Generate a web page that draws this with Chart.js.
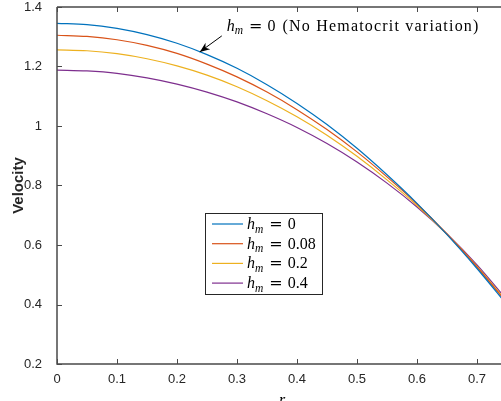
<!DOCTYPE html>
<html>
<head>
<meta charset="utf-8">
<script src="https://cdn.jsdelivr.net/npm/chart.js@4.4.0/dist/chart.umd.min.js"></script>
<style>
    html, body { margin: 0; padding: 0; background: #fff; overflow: hidden; }
    #wrap { width: 501px; height: 401px; overflow: hidden; position: relative; }
    #wrap canvas { position: absolute; left: 0; top: 0; }
</style>
</head>
<body>
<div id="wrap"><canvas id="velocityChart" width="520" height="420"></canvas></div>
<script>
// radial position r and velocity for each hematocrit parameter h_m
const radius = [0, 0.05, 0.1, 0.15, 0.2, 0.25, 0.3, 0.35, 0.4, 0.45, 0.5, 0.55, 0.6, 0.65, 0.7, 0.75];
const hmLabels = ['0', '0.08', '0.2', '0.4'];
const velHm0 = [1.345, 1.341, 1.328, 1.307, 1.278, 1.240, 1.194, 1.139, 1.076, 1.005, 0.925, 0.836, 0.740, 0.635, 0.521, 0.399];
const velHm008 = [1.305, 1.301, 1.290, 1.271, 1.244, 1.208, 1.165, 1.114, 1.055, 0.988, 0.913, 0.829, 0.738, 0.637, 0.526, 0.405];
const velHm02 = [1.256, 1.253, 1.243, 1.226, 1.202, 1.171, 1.132, 1.085, 1.031, 0.969, 0.898, 0.819, 0.733, 0.636, 0.528, 0.409];
const velHm04 = [1.188, 1.185, 1.177, 1.162, 1.141, 1.114, 1.081, 1.041, 0.995, 0.941, 0.879, 0.808, 0.728, 0.637, 0.533, 0.415];
const xTicks = [0, 0.1, 0.2, 0.3, 0.4, 0.5, 0.6, 0.7];
const yTicks = [0.2, 0.4, 0.6, 0.8, 1, 1.2, 1.4];

const lineColors = ['#0072BD', '#D95319', '#EDB120', '#7E2F8E'];
const axisColor = '#4a4a4a';
const textColor = '#262626';
const serif = '"Liberation Serif", "DejaVu Serif", serif';
const sans = '"Liberation Sans", Arial, sans-serif';

// callout pointing at the h_m = 0 curve
const calloutX = 0.238;
const calloutText = '(No Hematocrit variation)';

function toPoints(ys) {
    return radius.map((r, i) => ({ x: r, y: ys[i] }));
}

function valueAt(xs, ys, x) {
    for (let i = 1; i < xs.length; i++) {
        if (x <= xs[i]) {
            const t = (x - xs[i - 1]) / (xs[i] - xs[i - 1]);
            return ys[i - 1] + t * (ys[i] - ys[i - 1]);
        }
    }
    return ys[ys.length - 1];
}

// draws "h_m = value" in a LaTeX-like style, returns the end x
function drawHm(ctx, x, y, value) {
    ctx.fillStyle = '#000';
    ctx.textBaseline = 'alphabetic';
    ctx.textAlign = 'left';
    ctx.font = 'italic 16px ' + serif;
    ctx.fillText('h', x, y);
    x += ctx.measureText('h').width;
    ctx.font = 'italic 11.5px ' + serif;
    ctx.fillText('m', x, y + 3.5);
    x += ctx.measureText('m').width + 6;
    ctx.font = '16px "DejaVu Serif", serif';
    ctx.fillText('=', x, y);
    x += ctx.measureText('=').width + 5;
    ctx.font = '16px ' + serif;
    ctx.fillText(value, x, y);
    return x + ctx.measureText(value).width;
}

const fmt = v => String(Number(v.toFixed(2)));

// MATLAB-style box: inward ticks, top border line
const axesBox = {
    id: 'axesBox',
    afterDraw(chart) {
        const { ctx, chartArea: a, scales: { x, y } } = chart;
        ctx.save();
        ctx.strokeStyle = axisColor;
        ctx.lineWidth = 1.5;
        ctx.beginPath();
        ctx.moveTo(a.left, a.top);
        ctx.lineTo(a.right, a.top);
        ctx.moveTo(a.left, a.top);
        ctx.lineTo(a.left, a.bottom);
        ctx.lineTo(a.right, a.bottom);
        ctx.stroke();
        ctx.lineWidth = 1;
        ctx.beginPath();
        xTicks.forEach(v => {
            const px = Math.round(x.getPixelForValue(v)) + 0.5;
            ctx.moveTo(px, a.bottom);
            ctx.lineTo(px, a.bottom - 5);
            ctx.moveTo(px, a.top);
            ctx.lineTo(px, a.top + 5);
        });
        yTicks.forEach(v => {
            const py = Math.round(y.getPixelForValue(v)) + 0.5;
            ctx.moveTo(a.left, py);
            ctx.lineTo(a.left + 5, py);
        });
        ctx.stroke();
        ctx.restore();
    }
};

// legend box with one sample line per series
const hmLegend = {
    id: 'hmLegend',
    afterDraw(chart) {
        const { ctx } = chart;
        const left = 205, top = 213, width = 117, height = 81, rowGap = 19.7;
        ctx.save();
        ctx.fillStyle = '#fff';
        ctx.fillRect(left, top, width, height);
        ctx.strokeStyle = textColor;
        ctx.lineWidth = 1;
        ctx.strokeRect(left + 0.5, top + 0.5, width, height);
        chart.data.datasets.forEach((ds, i) => {
            const rowY = top + 11 + i * rowGap;
            ctx.strokeStyle = ds.borderColor;
            ctx.lineWidth = 1.2;
            ctx.beginPath();
            ctx.moveTo(left + 7, rowY);
            ctx.lineTo(left + 38, rowY);
            ctx.stroke();
            drawHm(ctx, left + 42, rowY + 5, hmLabels[i]);
        });
        ctx.restore();
    }
};

// text callout with an arrow onto the first curve
const callout = {
    id: 'callout',
    afterDraw(chart) {
        const { ctx, scales: { x, y } } = chart;
        const tipX = x.getPixelForValue(calloutX);
        const tipY = y.getPixelForValue(valueAt(radius, velHm0, calloutX));
        const tailX = tipX + 22, tailY = tipY - 16;
        ctx.save();
        ctx.strokeStyle = '#000';
        ctx.fillStyle = '#000';
        ctx.lineWidth = 1;
        ctx.beginPath();
        ctx.moveTo(tailX, tailY);
        ctx.lineTo(tipX, tipY);
        ctx.stroke();
        const ang = Math.atan2(tipY - tailY, tipX - tailX);
        const len = 10, half = 4;
        const bx = tipX - len * Math.cos(ang), by = tipY - len * Math.sin(ang);
        const nx = -Math.sin(ang), ny = Math.cos(ang);
        ctx.beginPath();
        ctx.moveTo(tipX, tipY);
        ctx.lineTo(bx + nx * half, by + ny * half);
        ctx.lineTo(tipX - 0.7 * len * Math.cos(ang), tipY - 0.7 * len * Math.sin(ang));
        ctx.lineTo(bx - nx * half, by - ny * half);
        ctx.closePath();
        ctx.fill();
        const end = drawHm(ctx, tailX + 5, tailY - 5, '0');
        ctx.font = '16px ' + serif;
        if ('letterSpacing' in ctx) ctx.letterSpacing = '1.2px';
        ctx.fillText(calloutText, end + 7, tailY - 5);
        ctx.restore();
    }
};

const ctx = document.getElementById('velocityChart').getContext('2d');

new Chart(ctx, {
    type: 'line',
    data: {
        datasets: [velHm0, velHm008, velHm02, velHm04].map((ys, i) => ({
            label: 'h_m = ' + hmLabels[i],
            data: toPoints(ys),
            borderColor: lineColors[i],
            borderWidth: 1.2,
            pointRadius: 0,
            fill: false,
            cubicInterpolationMode: 'monotone'
        }))
    },
    options: {
        responsive: false,
        animation: false,
        devicePixelRatio: 1,
        layout: { padding: { left: 0, top: 7, right: 13, bottom: 0 } },
        plugins: {
            legend: { display: false },
            tooltip: { enabled: false }
        },
        scales: {
            x: {
                type: 'linear',
                min: 0,
                max: 0.75,
                grid: { display: false },
                border: { display: false },
                afterBuildTicks: s => { s.ticks = xTicks.map(v => ({ value: v })); },
                afterFit: s => { s.height = 56; s.paddingLeft = 0; s.paddingRight = 0; },
                ticks: {
                    color: textColor,
                    padding: 0,
                    maxRotation: 0,
                    font: { family: sans, size: 13 },
                    callback: v => fmt(v)
                },
                title: {
                    display: true,
                    text: 'r',
                    color: '#000',
                    padding: { top: 0, bottom: 10 },
                    font: { family: serif, style: 'italic', size: 16 }
                }
            },
            y: {
                min: 0.2,
                max: 1.4,
                grid: { display: false },
                border: { display: false },
                afterBuildTicks: s => { s.ticks = yTicks.map(v => ({ value: v })); },
                afterFit: s => { s.width = 57; s.paddingTop = 0; s.paddingBottom = 0; },
                ticks: {
                    color: textColor,
                    padding: 7,
                    font: { family: sans, size: 13 },
                    callback: v => fmt(v)
                },
                title: {
                    display: true,
                    text: 'Velocity',
                    color: textColor,
                    padding: { top: 10, bottom: 0 },
                    font: { family: sans, weight: 'bold', size: 15 }
                }
            }
        }
    },
    plugins: [axesBox, hmLegend, callout]
});
</script>
</body>
</html>
